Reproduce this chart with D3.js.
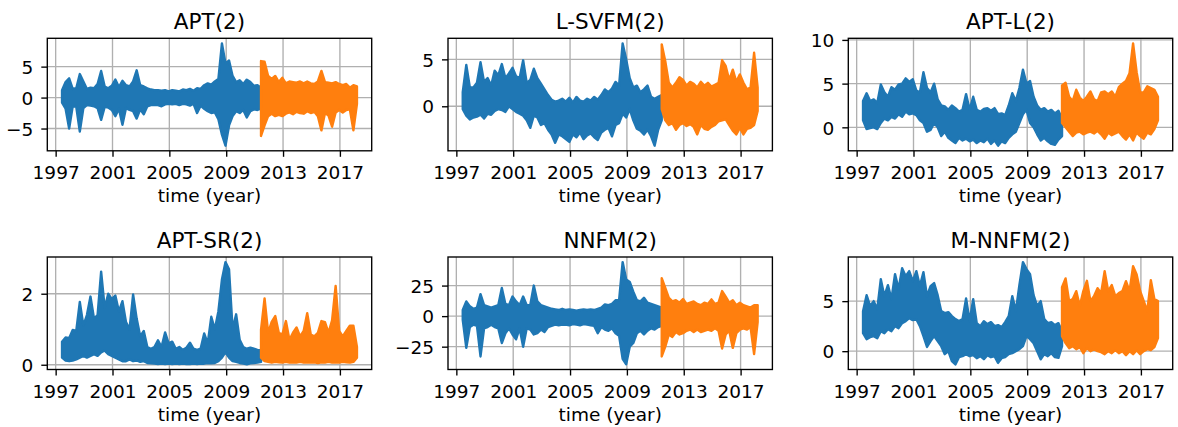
<!DOCTYPE html>
<html><head><meta charset="utf-8">
<script src="https://cdn.jsdelivr.net/npm/d3@7"></script>
<style>
body{margin:0;background:#fff}
svg{display:block}
text{font-family:"DejaVu Sans",sans-serif;fill:#000}
</style>
</head><body><svg id="chart" width="1178" height="427"></svg>
<script>
// ---------------- data ----------------
const titles = ["APT(2)", "L-SVFM(2)", "APT-L(2)", "APT-SR(2)", "NNFM(2)", "M-NNFM(2)"];
const xTickYears = [1997, 2001, 2005, 2009, 2013, 2017];
const yTicks = [[-5, 0, 5], [0, 5], [0, 5, 10], [0, 2], [-25, 0, 25], [0, 5]];
const xLabel = "time (year)";
// sampling of the read-off envelope (max / min of the daily series per quarter year)
const trainStart = 1997.45, testStart = 2011.45, sampleStep = 0.25;

const aptTrainHi = [1.2,2.5,3.1,1.4,1.5,3.8,2.6,1.4,1.6,1.5,2.2,4.3,1.8,1.5,1.9,2.9,1.7,2.7,2.0,1.8,2.6,4.4,2.0,1.8,1.5,1.3,1.2,1.2,1.1,1.2,1.0,1.2,1.1,1.0,1.3,1.2,1.4,1.1,1.5,1.4,2.0,2.3,2.1,2.6,3.0,8.75,5.5,6.0,3.5,2.5,2.8,2.2,2.9,2.5,1.9,2.0,1.6];
const aptTrainLo = [-0.8,-1.8,-5.0,-1.4,-1.5,-5.5,-1.7,-1.2,-1.3,-1.4,-1.7,-3.6,-1.5,-1.6,-2.0,-3.0,-1.8,-4.4,-1.7,-2.0,-2.2,-3.4,-1.9,-2.7,-1.4,-1.2,-1.2,-1.2,-1.4,-1.1,-1.0,-1.1,-1.0,-1.2,-1.0,-1.1,-1.3,-1.0,-2.5,-1.3,-1.8,-2.2,-2.5,-2.4,-3.5,-6.0,-7.77,-4.5,-3.0,-2.2,-2.5,-2.0,-3.2,-2.2,-1.9,-2.0,-1.8];
const aptTestHi = [5.9,5.8,3.5,3.0,3.5,2.5,3.2,2.3,2.6,2.5,2.4,2.6,2.3,2.6,2.3,2.2,2.6,4.3,2.5,2.4,2.3,2.5,2.2,2.0,2.2,1.6,2.0,1.8];
const aptTestLo = [-6.2,-4.5,-3.0,-2.6,-3.0,-2.8,-3.0,-2.6,-2.4,-2.7,-2.3,-2.5,-2.6,-2.2,-2.5,-2.3,-3.0,-5.3,-2.5,-2.9,-4.7,-2.4,-2.0,-2.4,-2.0,-1.9,-5.3,-1.0];

const lsvTrainHi = [1.5,4.4,2.0,2.0,2.5,4.7,2.6,3.0,2.2,3.8,3.3,4.5,3.0,3.5,4.1,3.2,3.0,4.9,2.5,2.8,4.0,3.0,2.4,1.8,1.2,0.7,0.5,0.6,0.8,0.5,0.9,0.4,1.0,0.6,0.5,0.8,0.6,1.0,0.7,1.2,1.8,1.5,1.9,2.6,2.2,6.7,5.0,3.0,2.0,2.2,1.5,1.8,2.2,1.0,0.8,1.0,1.2];
const lsvTrainLo = [-0.3,-1.0,-1.4,-1.2,-1.1,-0.9,-1.3,-0.8,-0.9,-0.5,-0.3,-0.4,-0.6,0.0,-0.3,-0.6,-0.8,-1.0,-1.5,-2.3,-1.0,-1.2,-2.0,-1.8,-2.5,-3.0,-3.9,-3.0,-3.2,-3.5,-3.8,-3.0,-3.3,-2.8,-3.5,-3.1,-2.9,-3.3,-3.6,-2.8,-2.5,-2.3,-3.2,-2.0,-1.8,-0.8,-1.2,-0.3,-1.5,-2.4,-2.6,-3.0,-2.5,-3.2,-4.2,-2.5,-1.5];
const lsvTestHi = [6.6,4.8,2.5,2.0,2.5,3.1,2.8,2.2,2.6,2.4,2.0,2.6,2.2,2.5,2.1,2.3,2.5,4.9,4.3,2.8,3.9,2.6,3.4,2.5,1.8,2.0,5.7,2.0];
const lsvTestLo = [-0.3,-1.5,-2.0,-1.8,-2.5,-2.0,-1.8,-2.1,-1.9,-2.2,-3.0,-2.0,-2.4,-2.5,-2.2,-2.0,-1.6,-1.5,-1.4,-2.0,-2.6,-3.0,-2.3,-3.0,-2.4,-2.3,-2.0,-0.5];

const aplTrainHi = [3.0,3.9,3.0,3.2,2.8,4.9,4.0,3.5,4.6,4.3,4.9,5.0,5.6,5.2,5.5,4.2,4.0,6.3,4.5,4.0,5.0,3.2,2.5,2.4,2.0,2.5,2.2,1.8,2.0,3.8,2.0,3.5,2.0,1.8,2.1,2.2,1.9,2.2,1.5,1.6,1.4,2.5,3.9,3.0,4.5,6.6,5.0,5.3,3.5,2.5,2.0,2.2,1.8,2.0,1.6,1.9,1.0];
const aplTrainLo = [0.8,-0.2,-0.1,0.0,-0.2,0.5,1.0,0.8,1.2,1.0,1.5,1.2,1.8,1.5,1.6,1.4,0.8,0.5,-0.5,-0.3,0.5,0.0,-1.0,-0.5,-1.2,-1.5,-1.8,-1.2,-1.5,-1.3,-1.6,-1.4,-1.8,-1.5,-1.7,-1.3,-1.9,-1.5,-2.1,-1.6,-1.8,-1.2,-0.8,-0.5,0.5,1.5,2.0,0.5,0.0,-0.8,-1.5,-1.2,-1.6,-1.9,-2.0,-1.4,-1.0];
const aplTestHi = [4.8,5.1,3.5,3.0,4.3,3.4,3.0,3.5,4.1,3.2,3.0,4.0,4.1,3.8,4.1,3.5,4.6,5.0,5.3,6.2,9.6,6.3,4.0,4.0,4.7,4.5,4.3,3.5];
const aplTestLo = [0.5,0.0,-0.5,-1.0,-0.6,-0.5,-0.8,-0.6,-0.5,-0.7,-0.4,-0.8,-1.3,-0.6,-0.9,-0.7,-0.5,-1.0,-1.4,-0.8,-1.5,-0.6,-1.0,-1.3,-0.6,-0.8,-0.2,0.8];

const srTrainHi = [0.65,0.77,0.75,0.98,0.95,1.77,1.1,1.4,1.92,1.3,1.4,2.62,1.6,2.0,1.85,1.95,1.5,1.79,1.2,1.0,1.98,1.3,0.8,0.95,0.5,0.45,0.5,0.69,0.5,0.91,0.6,0.65,0.45,0.5,0.42,0.48,0.62,0.45,0.42,0.45,0.88,0.6,1.35,1.0,1.5,2.4,2.89,2.69,1.0,1.42,0.7,0.5,0.45,0.48,0.45,0.42,0.4];
const srTrainLo = [0.2,0.12,0.1,0.12,0.15,0.2,0.25,0.2,0.25,0.3,0.25,0.35,0.4,0.3,0.25,0.2,0.15,0.1,0.1,0.15,0.1,0.12,0.08,0.1,0.05,0.04,0.03,0.02,0.03,0.02,0.03,0.02,0.03,0.02,0.03,0.02,0.02,0.03,0.02,0.03,0.03,0.05,0.04,0.05,0.1,0.2,0.35,0.2,0.1,0.08,0.05,0.03,0.01,0.04,0.05,0.06,0.08];
const srTestHi = [0.98,1.87,0.9,1.21,1.37,0.9,0.85,1.23,0.7,0.9,1.05,0.8,0.95,1.45,0.85,0.8,0.9,1.23,1.2,0.9,1.25,2.22,0.95,0.8,0.95,1.1,1.1,0.5];
const srTestLo = [0.2,0.1,0.08,0.06,0.08,0.07,0.06,0.08,0.06,0.07,0.06,0.08,0.06,0.07,0.06,0.07,0.05,0.07,0.06,0.08,0.06,0.07,0.06,0.08,0.07,0.06,0.08,0.2];

const nnTrainHi = [5,12,8,6,7,18,9,8,7,8,9,23,10,9,16,12,9,16,9,9,25,12,9,8,7,6,5.5,5,6,5,5.5,5,4.5,5,5.5,5,5.5,5,6,7,9.6,9,10,13,13,44.2,30,28,20,13,12,15,11,10,9,8,7];
const nnTrainLo = [-3,-26,-9,-7,-8,-33,-10,-9,-7,-9,-10,-22,-14,-10,-15,-19,-10,-25,-10,-11,-15,-14,-11,-13,-9,-8,-7,-7.5,-7,-7,-7.5,-6.5,-7,-7.5,-6.5,-7,-7.5,-8,-14,-9,-11,-12,-10,-14,-16,-35,-39.5,-25,-22,-14,-12,-15,-12,-10,-11,-9,-8];
const nnTestHi = [31,23,15,12,13,11,14,10,11,12,10,9,11,10,13.7,10,11,20.5,16,11,13,9,11,9,8,7,9,9];
const nnTestLo = [-33,-25,-15,-17,-13,-15,-14,-12,-11,-13,-11,-13,-12,-11,-12,-10,-12,-26.5,-15,-12,-26,-14,-11,-10,-11,-9,-31,-5];

const mnTrainHi = [4.0,5.6,4.5,5.0,4.2,7.2,5.5,6.6,5.2,7.7,6.2,8.3,7.5,8.0,7.0,8.0,6.5,7.9,5.5,6.5,6.8,5.6,4.0,3.8,3.9,3.5,3.2,3.0,3.2,5.27,3.0,5.2,2.8,2.5,3.0,2.7,2.9,2.5,2.6,2.4,2.9,3.5,5.5,4.0,6.6,8.9,8.2,7.7,5.6,4.5,5.0,3.2,2.8,2.9,2.6,2.8,2.0];
const mnTrainLo = [1.8,1.2,1.4,1.5,1.3,2.0,1.8,2.2,2.0,2.5,2.3,2.8,3.0,3.3,3.1,3.2,2.5,1.5,0.43,1.0,1.5,1.0,0.5,-0.3,0.0,-1.0,-1.32,-0.6,-0.5,-0.3,-0.5,-0.4,-0.7,-0.5,-0.8,-0.4,-0.6,-0.5,-1.17,-0.7,-0.6,-0.3,-0.2,0.0,0.2,0.5,1.5,1.2,0.8,0.0,-0.8,-0.3,-0.5,-0.2,-0.6,-0.67,0.5];
const mnTestHi = [6.4,7.27,5.0,5.2,6.0,4.5,6.0,7.03,5.0,5.5,6.3,5.8,8.0,6.0,6.6,5.5,5.8,6.0,7.0,6.0,8.5,7.67,6.0,5.0,4.0,7.1,5.2,5.0];
const mnTestLo = [1.5,0.8,0.3,0.5,0.2,0.4,-0.2,0.3,0.0,0.2,0.0,-0.1,-0.3,0.0,-0.2,0.1,-0.2,0.0,-0.4,0.0,-0.3,0.1,-0.3,0.0,0.2,0.1,0.4,1.3];

// ---------------- layout / style ----------------
const colLeft = [47.3, 448, 848.3], rowTop = [38.3, 257];
const plotW = 324.4, plotH = 112.5;
const trainColor = "#1f77b4", testColor = "#ff7f0e";
const lw = 1.36;
const tickFont = 18.5, titleFont = 21.5;

const panelData = [
  [aptTrainLo, aptTrainHi, aptTestLo, aptTestHi],
  [lsvTrainLo, lsvTrainHi, lsvTestLo, lsvTestHi],
  [aplTrainLo, aplTrainHi, aplTestLo, aplTestHi],
  [srTrainLo, srTrainHi, srTestLo, srTestHi],
  [nnTrainLo, nnTrainHi, nnTestLo, nnTestHi],
  [mnTrainLo, mnTrainHi, mnTestLo, mnTestHi]
];

const toPoints = (lo, hi, start) => lo.map((v, i) => ({t: start + i * sampleStep, lo: v, hi: hi[i]}));
const fmt = d => (d < 0 ? "\u2212" + Math.abs(d) : String(d));

const svg = d3.select("#chart");
svg.append("rect").attr("width", 1178).attr("height", 427).attr("fill", "#fff");

panelData.forEach((arrs, p) => {
  const [trLo, trHi, teLo, teHi] = arrs;
  const train = toPoints(trLo, trHi, trainStart);
  const test = toPoints(teLo, teHi, testStart);
  const all = train.concat(test);
  const tExt = d3.extent(all, d => d.t);
  const yMin = d3.min(all, d => d.lo), yMax = d3.max(all, d => d.hi);
  const tPad = 0.05 * (tExt[1] - tExt[0]), yPad = 0.05 * (yMax - yMin);

  const left = colLeft[p % 3], top = rowTop[Math.floor(p / 3)];
  const x = d3.scaleLinear().domain([tExt[0] - tPad, tExt[1] + tPad]).range([0, plotW]);
  const y = d3.scaleLinear().domain([yMin - yPad, yMax + yPad]).range([plotH, 0]);

  const g = svg.append("g").attr("transform", `translate(${left},${top})`);
  const clipId = "clip" + p;
  g.append("clipPath").attr("id", clipId).append("rect").attr("width", plotW).attr("height", plotH);

  // grid
  const grid = g.append("g").attr("stroke", "#b0b0b0").attr("stroke-width", lw);
  grid.selectAll("line.vx").data(xTickYears).join("line")
    .attr("x1", d => x(d)).attr("x2", d => x(d)).attr("y1", 0).attr("y2", plotH);
  grid.selectAll("line.hy").data(yTicks[p]).join("line")
    .attr("y1", d => y(d)).attr("y2", d => y(d)).attr("x1", 0).attr("x2", plotW);

  // series: envelope of the dense daily line, drawn as a filled, stroked band
  const area = d3.area().x(d => x(d.t)).y0(d => y(d.lo)).y1(d => y(d.hi)).curve(d3.curveLinear);
  const series = g.append("g").attr("clip-path", `url(#${clipId})`);
  [[train, trainColor], [test, testColor]].forEach(([pts, c]) => {
    series.append("path").datum(pts).attr("d", area)
      .attr("fill", c).attr("stroke", c).attr("stroke-width", 2.4).attr("stroke-linejoin", "round");
  });

  // axes
  const xa = g.append("g").attr("transform", `translate(0,${plotH})`)
    .call(d3.axisBottom(x).tickValues(xTickYears).tickFormat(d3.format("d")).tickSize(6).tickPadding(8.9));
  const ya = g.append("g")
    .call(d3.axisLeft(y).tickValues(yTicks[p]).tickFormat(fmt).tickSize(6).tickPadding(8));
  [xa, ya].forEach(a => {
    a.select(".domain").remove();
    a.selectAll(".tick line").attr("stroke", "#000").attr("stroke-width", lw);
    a.selectAll(".tick text").attr("font-size", tickFont).attr("font-family", "DejaVu Sans").attr("fill", "#000");
  });
  ya.selectAll(".tick text").attr("dy", "0.36em");

  // spines
  g.append("rect").attr("width", plotW).attr("height", plotH)
    .attr("fill", "none").attr("stroke", "#000").attr("stroke-width", lw);

  // title & label
  g.append("text").attr("x", plotW / 2).attr("y", -9.5).attr("text-anchor", "middle")
    .attr("font-size", titleFont).text(titles[p]);
  g.append("text").attr("x", plotW / 2).attr("y", plotH + 51.5).attr("text-anchor", "middle")
    .attr("font-size", tickFont).text(xLabel);
});
</script>
</body></html>
